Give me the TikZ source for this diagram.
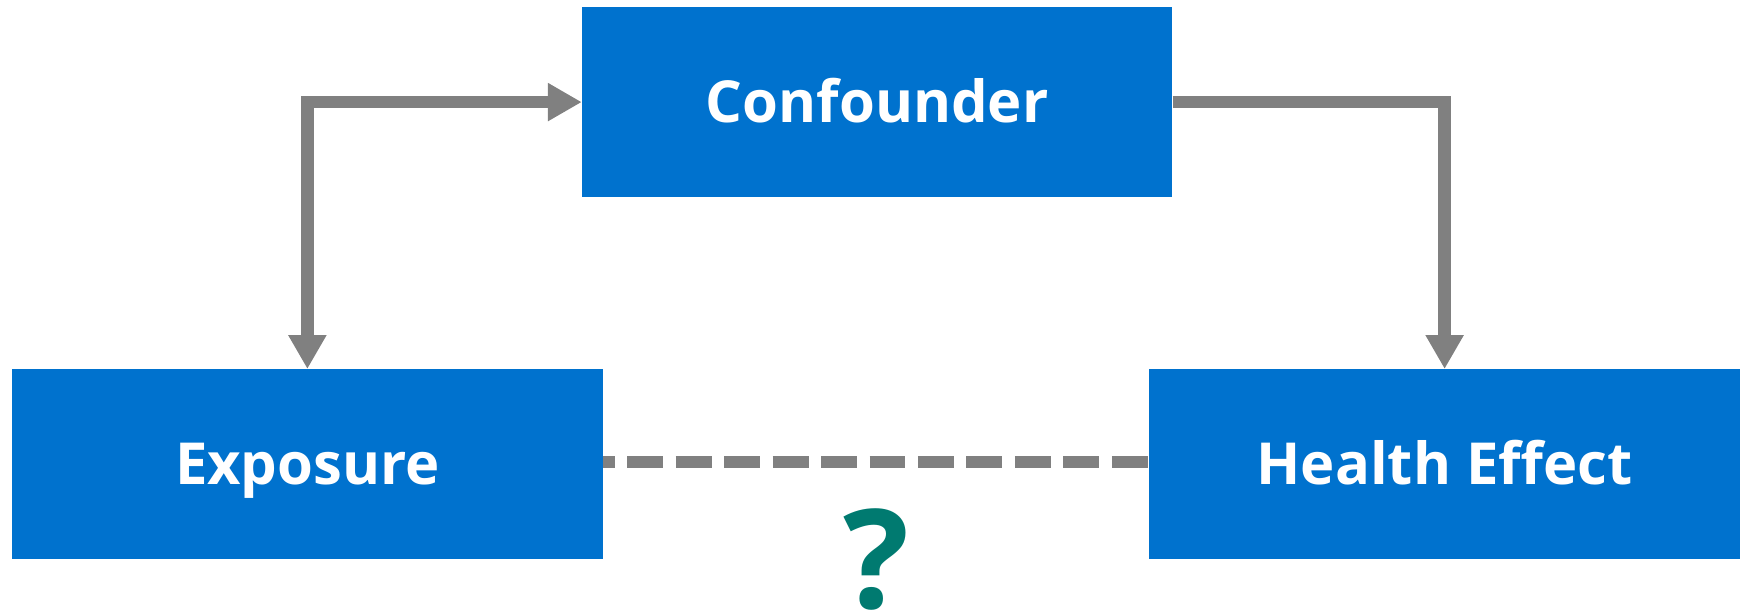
\documentclass[tikz,border=0pt]{standalone}
\usepackage{fontspec}
\setmainfont{Open Sans}
\usetikzlibrary{arrows.meta, positioning, calc}
\definecolor{boxblue}{RGB}{0,114,206}
\definecolor{linkgray}{RGB}{128,128,128}
\definecolor{askteal}{RGB}{0,122,112}
\begin{document}
\begin{tikzpicture}[every node/.style={font=\bfseries\fontsize{58}{68}\selectfont}, box/.style={fill=boxblue, text=white, minimum width=591pt, minimum height=190pt, inner sep=0pt, text height=41.4pt, text depth=0pt}, link/.style={draw=linkgray, line width=12.5pt, -{Triangle[width=36pt,length=34pt]}}, dashlink/.style={draw=linkgray, line width=12.5pt, dash pattern=on 36pt off 12.5pt, dash phase=24pt}, qmark/.style={text=askteal, font=\bfseries\fontsize{138}{150}\selectfont, inner sep=0pt}]
  \node[box] (exp) {Exposure};
  \node[box, right=547pt of exp] (hlth) {Health Effect};
  \node[box, above right=172pt and -21pt of exp.north east] (conf) {Confounder};
  \coordinate (mid) at ($(exp.east)!0.5!(hlth.west)$);
  \node[qmark] (ask) at ([yshift=-95pt]mid) {?};
  \draw[link, {Triangle[width=36pt,length=34pt]}-{Triangle[width=36pt,length=34pt]}] (conf.west) -| (exp.north);
  \draw[link] (conf.east) -| (hlth.north);
  \draw[dashlink] ([yshift=2pt]exp.east) -- ([yshift=2pt]hlth.west);
  \useasboundingbox ([xshift=-12pt,yshift=-53pt]exp.south west) rectangle ([xshift=7pt,yshift=7pt]conf.north -| hlth.east);
\end{tikzpicture}
\end{document}
